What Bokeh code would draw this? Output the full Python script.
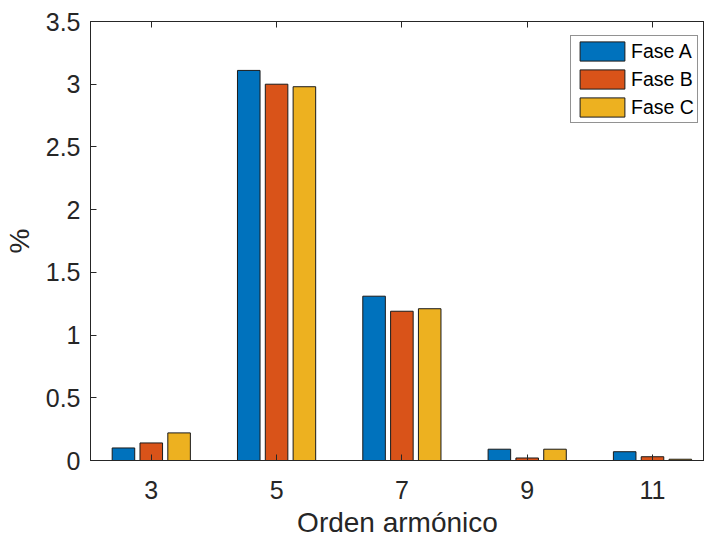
from bokeh.plotting import figure
from bokeh.models import ColumnDataSource, FixedTicker, LinearAxis, Legend, LegendItem, Range1d
from bokeh.transform import dodge
from bokeh.embed import file_html
from bokeh.resources import INLINE

# ---- data ----
harmonics = ["3", "5", "7", "9", "11"]
fase_a = [0.10, 3.11, 1.31, 0.09, 0.07]
fase_b = [0.14, 3.00, 1.19, 0.02, 0.03]
fase_c = [0.22, 2.98, 1.21, 0.09, 0.01]
series_names = ["Fase A", "Fase B", "Fase C"]
y_ticks = [0, 0.5, 1, 1.5, 2, 2.5, 3, 3.5]
y_tick_labels = ["0", "0.5", "1", "1.5", "2", "2.5", "3", "3.5"]

colors = ["#0072BD", "#D95319", "#EDB120"]
offsets = [-0.222, 0.0, 0.222]
axis_color = "#262626"
FONT = "Liberation Sans"

positions = list(range(1, len(harmonics) + 1))
source = ColumnDataSource(dict(x=positions, a=fase_a, b=fase_b, c=fase_c))

p = figure(width=704, height=540, output_backend="svg", toolbar_location=None,
           x_range=Range1d(0.515, 5.415), y_range=Range1d(0, 3.5),
           min_border_left=90, min_border_right=0, min_border_top=21, min_border_bottom=79)

renderers = []
for col, off, color in zip(["a", "b", "c"], offsets, colors):
    r = p.vbar(x=dodge("x", off, range=p.x_range), top=col, width=0.18, source=source,
               fill_color=color, line_color="#1a1a1a", line_width=1)
    renderers.append(r)

p.grid.visible = False
p.background_fill_color = "white"
p.border_fill_color = "white"
p.outline_line_color = axis_color
p.outline_line_width = 1

# x axis
xa = p.xaxis[0]
xa.ticker = FixedTicker(ticks=positions)
xa.major_label_overrides = {pos: lab for pos, lab in zip(positions, harmonics)}
xa.axis_label = "Orden armónico"
# y axis
ya = p.yaxis[0]
ya.ticker = FixedTicker(ticks=y_ticks)
ya.major_label_overrides = {t: lab for t, lab in zip(y_ticks, y_tick_labels)}
ya.axis_label = "%"

for ax in (xa, ya):
    ax.axis_line_color = axis_color
    ax.major_tick_line_color = axis_color
    ax.major_tick_in = 6
    ax.major_tick_out = 0
    ax.minor_tick_line_color = None
    ax.major_label_text_font = FONT
    ax.major_label_text_font_size = "25px"
    ax.major_label_text_color = axis_color
    ax.axis_label_text_font = FONT
    ax.axis_label_text_font_size = "28px"
    ax.axis_label_text_font_style = "normal"
    ax.axis_label_text_color = axis_color

xa.major_label_standoff = 20
xa.axis_label_standoff = 5
ya.major_label_standoff = 10
ya.axis_label_standoff = 8

# mirrored top ticks (minor ticks only, so no labels are drawn)
top = LinearAxis(ticker=FixedTicker(ticks=[], minor_ticks=positions),
                 axis_line_color=axis_color, major_tick_line_color=None,
                 minor_tick_line_color=axis_color, minor_tick_in=6, minor_tick_out=0,
                 major_label_standoff=0)
p.add_layout(top, "above")

legend = Legend(items=[LegendItem(label=n, renderers=[r]) for n, r in zip(series_names, renderers)],
                location=(480, 337), padding=3, spacing=4,
                glyph_width=56, glyph_height=24, label_standoff=1,
                label_text_font=FONT, label_text_font_size="19.5px", label_text_color="#000000",
                border_line_color=axis_color, border_line_width=1, background_fill_alpha=1)
p.add_layout(legend)

open("out.html", "w").write(file_html(p, INLINE))
